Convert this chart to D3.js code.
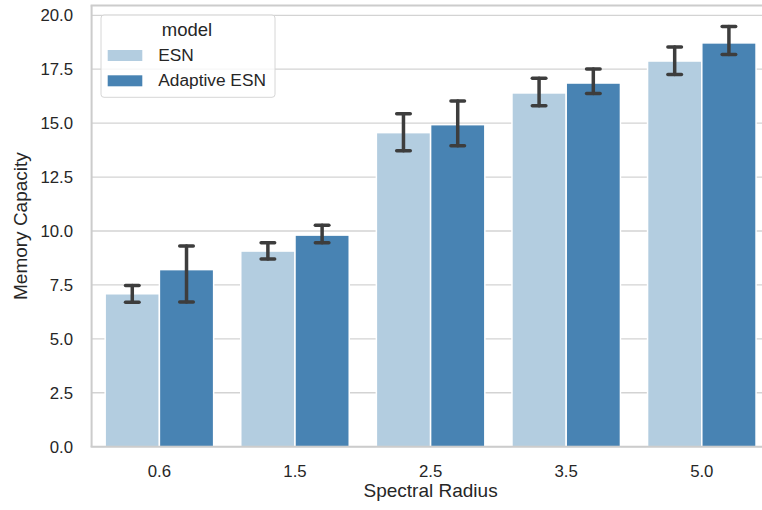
<!DOCTYPE html>
<html>
<head>
<meta charset="utf-8">
<script src="https://cdn.jsdelivr.net/npm/d3@7"></script>
<style>
  html, body { margin: 0; padding: 0; background: #ffffff; }
  svg { display: block; font-family: "Liberation Sans", Arial, sans-serif; }
</style>
</head>
<body>
<svg id="chart" width="762" height="510"></svg>
<script>
// Spectral radius categories and the two model series (means with CI bounds)
const categories = ["0.6", "1.5", "2.5", "3.5", "5.0"];
const models = ["ESN", "Adaptive ESN"];
const esnMean = [7.09, 9.07, 14.56, 16.40, 17.88];
const esnLow  = [6.70, 8.70, 13.72, 15.81, 17.26];
const esnHigh = [7.47, 9.45, 15.44, 17.08, 18.53];
const adaptiveMean = [8.21, 9.81, 14.93, 16.86, 18.72];
const adaptiveLow  = [6.71, 9.45, 13.95, 16.38, 18.18];
const adaptiveHigh = [9.30, 10.27, 16.03, 17.51, 19.48];
const yTicks = [0, 2.5, 5, 7.5, 10, 12.5, 15, 17.5, 20];

const colors = { "ESN": "#b3cde0", "Adaptive ESN": "#4883b3" };

const rows = [];
categories.forEach((c, i) => {
  rows.push({ cat: c, model: "ESN", mean: esnMean[i], lo: esnLow[i], hi: esnHigh[i] });
  rows.push({ cat: c, model: "Adaptive ESN", mean: adaptiveMean[i], lo: adaptiveLow[i], hi: adaptiveHigh[i] });
});

const svg = d3.select("#chart");
const plotLeft = 91.6, plotRight = 769.6, plotTop = 5.5, plotBottom = 446.7;

const x = d3.scaleBand().domain(categories).range([plotLeft, plotRight]).paddingInner(0).paddingOuter(0);
const xSub = d3.scaleBand().domain(models).range([x.step() * 0.1, x.step() * 0.9]);
const yMax = d3.max(rows, d => d.hi) * 1.05;
const y = d3.scaleLinear().domain([0, yMax]).range([plotBottom, plotTop]);

// horizontal grid
svg.append("g").selectAll("line").data(yTicks).join("line")
  .attr("x1", plotLeft).attr("x2", plotRight)
  .attr("y1", d => y(d)).attr("y2", d => y(d))
  .attr("stroke", "#d3d3d3").attr("stroke-width", 1.3);

// bars
svg.append("g").selectAll("rect").data(rows).join("rect")
  .attr("x", d => x(d.cat) + xSub(d.model))
  .attr("width", xSub.bandwidth())
  .attr("y", d => y(d.mean))
  .attr("height", d => y(0) - y(d.mean))
  .attr("fill", d => colors[d.model])
  .attr("stroke", "#ffffff").attr("stroke-width", 1.5);

// error bars with caps
const capHalf = x.step() * 0.05;
const err = svg.append("g").attr("stroke", "#3d3d3d").attr("stroke-width", 3.5)
  .attr("stroke-linecap", "round").attr("fill", "none");
rows.forEach(d => {
  const cx = x(d.cat) + xSub(d.model) + xSub.bandwidth() / 2;
  err.append("line").attr("x1", cx).attr("x2", cx).attr("y1", y(d.lo)).attr("y2", y(d.hi));
  err.append("line").attr("x1", cx - capHalf).attr("x2", cx + capHalf).attr("y1", y(d.lo)).attr("y2", y(d.lo));
  err.append("line").attr("x1", cx - capHalf).attr("x2", cx + capHalf).attr("y1", y(d.hi)).attr("y2", y(d.hi));
});

// spines
const spine = svg.append("g").attr("stroke", "#cccccc").attr("stroke-width", 2).attr("fill", "none");
spine.append("line").attr("x1", plotLeft).attr("x2", plotLeft).attr("y1", plotTop).attr("y2", plotBottom);
spine.append("line").attr("x1", plotLeft - 1).attr("x2", plotRight).attr("y1", plotBottom).attr("y2", plotBottom);
spine.append("line").attr("x1", plotLeft - 1).attr("x2", plotRight).attr("y1", plotTop).attr("y2", plotTop);
spine.append("line").attr("x1", plotRight).attr("x2", plotRight).attr("y1", plotTop).attr("y2", plotBottom);

// y axis
const yAxis = d3.axisLeft(y).tickValues(yTicks).tickFormat(d3.format(".1f")).tickSize(0).tickPadding(18.5);
const gy = svg.append("g").attr("transform", `translate(${plotLeft},0)`).call(yAxis);
gy.select(".domain").remove();
gy.selectAll("text").attr("font-size", 16.8).attr("fill", "#262626")
  .attr("font-family", "Liberation Sans, Arial, sans-serif");

// x axis
const xAxis = d3.axisBottom(x).tickSize(0).tickPadding(18);
const gx = svg.append("g").attr("transform", `translate(0,${plotBottom})`).call(xAxis);
gx.select(".domain").remove();
gx.selectAll("text").attr("font-size", 16.8).attr("fill", "#262626")
  .attr("font-family", "Liberation Sans, Arial, sans-serif");

// axis titles
svg.append("text").attr("x", (plotLeft + plotRight) / 2).attr("y", 496.5)
  .attr("text-anchor", "middle").attr("font-size", 19).attr("fill", "#262626")
  .text("Spectral Radius");
svg.append("text").attr("transform", `translate(27,${(plotTop + plotBottom) / 2}) rotate(-90)`)
  .attr("text-anchor", "middle").attr("font-size", 19).attr("fill", "#262626")
  .text("Memory Capacity");

// legend
const lg = svg.append("g");
lg.append("rect").attr("x", 101).attr("y", 15).attr("width", 174).attr("height", 82.3)
  .attr("rx", 3).attr("fill", "rgba(255,255,255,0.8)").attr("stroke", "#d6d6d6").attr("stroke-width", 1);
lg.append("text").attr("x", 187).attr("y", 36).attr("text-anchor", "middle")
  .attr("font-size", 18.5).attr("fill", "#262626").text("model");
models.forEach((m, i) => {
  const yy = 50 + i * 25.3;
  lg.append("rect").attr("x", 107.7).attr("y", yy).attr("width", 34.6).attr("height", 11)
    .attr("fill", colors[m]);
  lg.append("text").attr("x", 158.3).attr("y", yy + 11).attr("font-size", 17.3)
    .attr("fill", "#262626").text(m);
});
</script>
</body>
</html>
